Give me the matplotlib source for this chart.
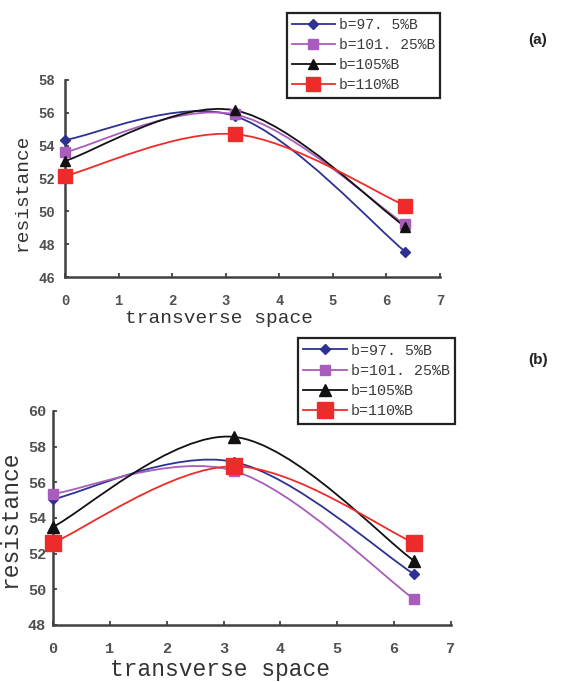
import matplotlib
matplotlib.use("Agg")
import matplotlib.pyplot as plt
from matplotlib.path import Path
from matplotlib.patches import PathPatch
import numpy as np

# measuring positions across the section
positions = [0, 3.175, 6.35]

labels = ["b=97. 5%B", "b=101. 25%B", "b=105%B", "b=110%B"]

# panel (a)
res_a_975 = [54.35, 55.8, 47.55]
res_a_10125 = [53.6, 55.9, 49.2]
res_a_105 = [53.07, 56.15, 49.07]
res_a_110 = [52.15, 54.7, 50.35]

# panel (b)
res_b_975 = [55.05, 57.15, 50.85]
res_b_10125 = [55.35, 56.65, 49.45]
res_b_105 = [53.5, 58.55, 51.6]
res_b_110 = [52.6, 56.9, 52.6]

colors = ["#2e3192", "#a85cbc", "#111111", "#ee2b2b"]
markers = ["D", "s", "^", "s"]
msizes = [5, 6.5, 7, 10]
msizes_b = [5.5, 7, 8, 11]

MONO = "Liberation Mono"
TEXT = "#333333"


def smooth_path(xs, ys):
    # Excel-style smoothed line: Catmull-Rom segments as cubic Beziers
    pts = np.column_stack([xs, ys]).astype(float)
    ext = np.vstack([pts[0], pts, pts[-1]])
    verts = [tuple(pts[0])]
    codes = [Path.MOVETO]
    for i in range(1, len(ext) - 2):
        p0, p1, p2, p3 = ext[i - 1], ext[i], ext[i + 1], ext[i + 2]
        c1 = p1 + (p2 - p0) / 6.0
        c2 = p2 - (p3 - p1) / 6.0
        verts += [tuple(c1), tuple(c2), tuple(p2)]
        codes += [Path.CURVE4] * 3
    return Path(verts, codes)


def draw_panel(ax, series, ylim, ms, tick_size, label_size, leg_size,
               leg_anchor, xlab_pos, ylab_pos, xpad, ypad):
    handles = []
    for vals, c, m, s, lab in zip(series, colors, markers, ms, labels):
        patch = PathPatch(smooth_path(positions, vals), facecolor="none",
                          edgecolor=c, lw=1.3, clip_on=False)
        ax.add_patch(patch)
        ax.plot(positions, vals, ls="none", marker=m, ms=s, color=c,
                mec=c, clip_on=False, zorder=3)
        h, = ax.plot([], [], color=c, lw=1.3, marker=m, ms=s, mec=c,
                     label=lab)
        handles.append(h)

    ax.set_xlim(0, 7)
    ax.set_ylim(*ylim)
    ax.set_xticks(range(0, 8))
    ax.set_yticks(np.arange(ylim[0], ylim[1] + 1, 2))
    for sp in ["top", "right"]:
        ax.spines[sp].set_visible(False)
    for sp in ["left", "bottom"]:
        ax.spines[sp].set_linewidth(1.8)
        ax.spines[sp].set_color("#404040")
    ax.tick_params(direction="in", length=3, width=1.2, color="#333333",
                   labelsize=tick_size, labelcolor="#505050")
    ax.tick_params(axis="x", pad=xpad)
    ax.tick_params(axis="y", pad=ypad)
    for t in ax.get_xticklabels() + ax.get_yticklabels():
        t.set_fontfamily(MONO)
        t.set_fontweight("bold")

    ax.set_xlabel("transverse space", fontsize=label_size, family=MONO,
                  color=TEXT)
    ax.set_ylabel("resistance", fontsize=label_size, family=MONO, color=TEXT)
    ax.xaxis.set_label_coords(*xlab_pos)
    ax.yaxis.set_label_coords(*ylab_pos)
    ax.xaxis.label.set_va("center")
    ax.yaxis.label.set_va("center")

    leg = ax.legend(handles=handles, loc="upper left",
                    bbox_to_anchor=leg_anchor, bbox_transform=fig.transFigure,
                    prop={"family": MONO, "size": leg_size},
                    fancybox=False, edgecolor="#222222", framealpha=1,
                    handlelength=2.9, handletextpad=0.3, labelspacing=0.42,
                    borderpad=0.35, borderaxespad=0)
    leg.get_frame().set_linewidth(1.6)
    for t in leg.get_texts():
        t.set_color("#3a3a3a")


fig = plt.figure(figsize=(5.63, 6.82), dpi=100)

ax_a = fig.add_axes([0.1155, 0.5938, 0.666, 0.2889])
draw_panel(ax_a, [res_a_975, res_a_10125, res_a_105, res_a_110], (46, 58),
           msizes, 10, 14, 10.5, (0.51, 0.981), (0.41, -0.21),
           (-0.115, 0.43), 12, 7)

ax_b = fig.add_axes([0.0941, 0.0836, 0.707, 0.3138])
draw_panel(ax_b, [res_b_975, res_b_10125, res_b_105, res_b_110], (48, 60),
           msizes_b, 11, 16.5, 10.8, (0.529, 0.504), (0.42, -0.21),
           (-0.108, 0.495), 12, 5)

fig.text(0.955, 0.941, "(a)", fontsize=11, fontweight="bold",
         family="Liberation Sans", ha="center", va="center", color="#222222")
fig.text(0.955, 0.472, "(b)", fontsize=11, fontweight="bold",
         family="Liberation Sans", ha="center", va="center", color="#222222")

fig.savefig("out.png", dpi=100)
